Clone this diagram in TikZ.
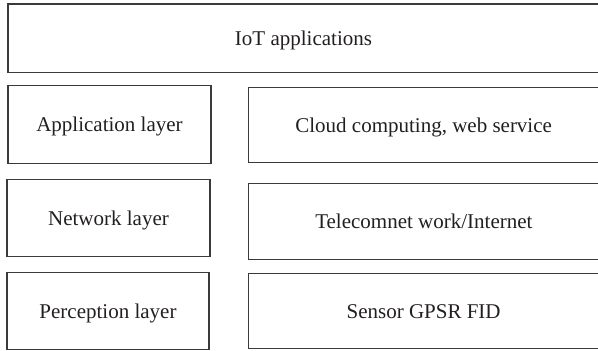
\documentclass[tikz,border=0pt]{standalone}
\usepackage{fontspec}
\setmainfont{Liberation Serif}
\definecolor{edge}{HTML}{3A3A3A}
\definecolor{ink}{HTML}{231F20}
\begin{document}
\begin{tikzpicture}[x=1pt,y=-1pt,
  layerbox/.style={draw=edge, line width=1.1pt, inner sep=0pt,
    text=ink, font=\fontsize{21}{25}\selectfont,
    text height=15pt, text depth=0pt}]
\useasboundingbox (0,0) rectangle (598,351);
% top banner
\node[layerbox, minimum width=591pt, minimum height=68.7pt] (iot) at (303.5,38.35) {IoT applications};
% left column: layer names
\node[layerbox, minimum width=203pt, minimum height=77.5pt] (app) at (109.5,124.45) {Application layer};
\node[layerbox, minimum width=203pt, minimum height=77.4pt] (net) at (108.5,218) {Network layer};
\node[layerbox, minimum width=202pt, minimum height=76.8pt] (per) at (108,310.9) {Perception layer};
% right column: technologies of each layer
\node[layerbox, minimum width=350.7pt, minimum height=75.5pt] (cloud) at (423.65,125.05) {Cloud computing, web service};
\node[layerbox, minimum width=350.3pt, minimum height=75.7pt] (tel) at (423.85,221.35) {Telecomnet work/Internet};
\node[layerbox, minimum width=350.7pt, minimum height=74.9pt] (sen) at (423.65,311.25) {Sensor GPSR FID};
\end{tikzpicture}
\end{document}
